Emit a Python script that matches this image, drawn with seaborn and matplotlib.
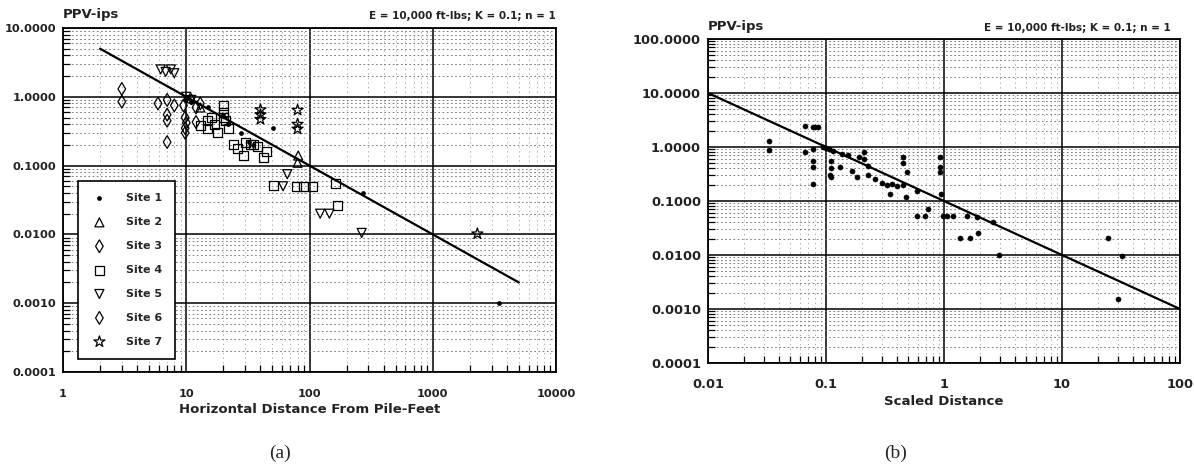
import numpy as np
import pandas as pd
import matplotlib
matplotlib.use("Agg")
import matplotlib.pyplot as plt
from matplotlib.ticker import LogLocator, FixedLocator, FixedFormatter, NullFormatter
import seaborn as sns

sns.set_theme(style="white")
plt.rcParams['font.family'] = ['DejaVu Sans']

# ---------------- data: panel (a) ----------------
site1_x = [10, 9.8, 11, 15, 20, 22, 28, 32, 35, 51, 270, 3450]
site1_y = [1.0, 0.9, 0.85, 0.7, 0.55, 0.4, 0.3, 0.22, 0.2, 0.35, 0.04, 0.001]
site2_x = [81, 80, 11, 13]
site2_y = [0.14, 0.11, 0.95, 0.7]
site3_x = [3, 3, 9.8, 9.8, 9.8, 10, 12]
site3_y = [1.3, 0.85, 0.5, 0.35, 0.3, 0.42, 0.43]
site4_x = [14.8, 15, 17, 18, 20, 20, 20, 21, 22, 24, 26, 29, 33, 42, 45, 51,
           78, 90, 105, 163, 170, 13, 16, 30, 35, 38]
site4_y = [0.45, 0.35, 0.4, 0.3, 0.75, 0.6, 0.5, 0.45, 0.35, 0.2, 0.18, 0.14,
           0.2, 0.13, 0.16, 0.052, 0.05, 0.05, 0.05, 0.055, 0.026, 0.38, 0.5,
           0.22, 0.2, 0.19]
site5_x = [6.2, 6.8, 7.5, 8, 61, 66, 122, 145, 265, 10, 11]
site5_y = [2.5, 2.3, 2.5, 2.2, 0.05, 0.075, 0.02, 0.02, 0.0105, 1.0, 0.9]
site6_x = [5.9, 7, 7, 7, 7, 8, 12, 13, 9.5]
site6_y = [0.8, 0.9, 0.55, 0.45, 0.22, 0.75, 0.7, 0.8, 0.75]
site7_x = [40, 40, 40, 80, 80, 80, 2300]
site7_y = [0.65, 0.55, 0.47, 0.64, 0.4, 0.34, 0.0102]

site_names = ["Site 1", "Site 2", "Site 3", "Site 4", "Site 5", "Site 6", "Site 7"]
site_xs = [site1_x, site2_x, site3_x, site4_x, site5_x, site6_x, site7_x]
site_ys = [site1_y, site2_y, site3_y, site4_y, site5_y, site6_y, site7_y]
site_markers = ["o", "^", "d", "s", "v", "d", "*"]

fit_a_x = [2, 5000]
fit_a_y = [5.0, 0.002]

# ---------------- data: panel (b) ----------------
sd_x = [0.033, 0.033, 0.066, 0.078, 0.08, 0.085, 0.066, 0.078, 0.078, 0.078,
        0.078, 0.095, 0.1, 0.105, 0.115, 0.11, 0.11, 0.11, 0.108, 0.131,
        0.137, 0.153, 0.165, 0.183, 0.19, 0.21, 0.21, 0.226, 0.226, 0.26,
        0.3, 0.33, 0.36, 0.4, 0.45, 0.35, 0.45, 0.45, 0.48, 0.49,
        0.59, 0.73, 0.59, 0.69, 0.92, 0.92, 0.92, 0.94, 0.98, 1.05,
        1.2, 1.57, 1.9, 1.37, 1.67, 1.95, 2.6, 2.9, 24.5, 32, 30]
sd_y = [1.27, 0.865, 2.5, 2.3, 2.35, 2.3, 0.8, 0.9, 0.55, 0.42,
        0.21, 1.0, 0.95, 0.9, 0.85, 0.55, 0.4, 0.28, 0.3, 0.42,
        0.75, 0.7, 0.36, 0.28, 0.64, 0.8, 0.6, 0.44, 0.3, 0.26,
        0.22, 0.2, 0.21, 0.19, 0.2, 0.135, 0.65, 0.5, 0.12, 0.34,
        0.15, 0.07, 0.053, 0.053, 0.64, 0.42, 0.34, 0.135, 0.053, 0.053,
        0.053, 0.053, 0.05, 0.021, 0.021, 0.026, 0.04, 0.01, 0.021, 0.0097, 0.0015]
fit_b_x = [0.01, 100]
fit_b_y = [10.0, 0.001]

# ticks
a_xticks = [1, 10, 100, 1000, 10000]
a_xlabels = ["1", "10", "100", "1000", "10000"]
a_yticks = [0.0001, 0.001, 0.01, 0.1, 1, 10]
a_ylabels = ["0.0001", "0.0010", "0.0100", "0.1000", "1.0000", "10.0000"]
b_xticks = [0.01, 0.1, 1, 10, 100]
b_xlabels = ["0.01", "0.1", "1", "10", "100"]
b_yticks = [0.0001, 0.001, 0.01, 0.1, 1, 10, 100]
b_ylabels = ["0.0001", "0.0010", "0.0100", "0.1000", "1.0000", "10.0000", "100.0000"]

W, H = 1194, 470
fig = plt.figure(figsize=(W / 100, H / 100), dpi=100)

def px_axes(x0, y0, x1, y1):
    return fig.add_axes([x0 / W, 1 - y1 / H, (x1 - x0) / W, (y1 - y0) / H])

axA = px_axes(63, 28, 556, 372)
axB = px_axes(708, 39, 1180, 363)

def style_axes(ax, xticks, xlabels, yticks, ylabels, fs, xpad):
    ax.set_xscale("log")
    ax.set_yscale("log")
    ax.set_xlim(xticks[0], xticks[-1])
    ax.set_ylim(yticks[0], yticks[-1])
    ax.xaxis.set_major_locator(FixedLocator(xticks))
    ax.xaxis.set_major_formatter(FixedFormatter(xlabels))
    ax.yaxis.set_major_locator(FixedLocator(yticks))
    ax.yaxis.set_major_formatter(FixedFormatter(ylabels))
    ax.xaxis.set_minor_locator(LogLocator(base=10, subs=np.arange(2, 10), numticks=20))
    ax.yaxis.set_minor_locator(LogLocator(base=10, subs=np.arange(2, 10), numticks=20))
    ax.xaxis.set_minor_formatter(NullFormatter())
    ax.yaxis.set_minor_formatter(NullFormatter())
    ax.grid(which="major", color="black", lw=1.1, ls="-")
    ax.xaxis.grid(which="minor", color="0.6", lw=0.6, ls=(0, (1.5, 4)))
    ax.yaxis.grid(which="minor", color="0.4", lw=0.6, ls=(0, (2, 3)))
    ax.set_axisbelow(True)
    ax.tick_params(which="major", direction="in", length=0, pad=5,
                   labelsize=fs, colors="black")
    ax.tick_params(axis="x", which="major", pad=xpad)
    ax.tick_params(which="minor", direction="in", length=5, width=0.9,
                   bottom=True, left=True, colors="black")
    for lab in ax.get_xticklabels() + ax.get_yticklabels():
        lab.set_fontweight("bold")
        lab.set_color("#222222")
    for s in ax.spines.values():
        s.set_color("black")
        s.set_linewidth(1.3)

style_axes(axA, a_xticks, a_xlabels, a_yticks, a_ylabels, 8.2, 12)
style_axes(axB, b_xticks, b_xlabels, b_yticks, b_ylabels, 9.3, 11)

# ---- panel (a) ----
sns.lineplot(x=fit_a_x, y=fit_a_y, ax=axA, color="black", lw=1.6, legend=False)
for name, xs, ys, mk in zip(site_names, site_xs, site_ys, site_markers):
    if mk == "o":
        sns.scatterplot(x=xs, y=ys, ax=axA, marker="o", s=8, color="black",
                        edgecolor="black", linewidth=0.5, label=name)
    else:
        size = 70 if mk == "*" else 42
        sns.scatterplot(x=xs, y=ys, ax=axA, marker=mk, s=size, facecolor="none",
                        edgecolor="black", linewidth=0.9, label=name)

leg = axA.legend(loc="lower left", bbox_to_anchor=(0.031, 0.038), frameon=True,
                 fancybox=False, edgecolor="black", framealpha=1,
                 prop={"weight": "bold", "size": 8}, labelspacing=1.25,
                 handletextpad=1.6, borderpad=1.1, handlelength=1.6,
                 borderaxespad=0)
leg.get_frame().set_linewidth(1.2)

axA.set_xlabel("Horizontal Distance From Pile-Feet", fontsize=9.5,
               fontweight="bold", color="#222222", labelpad=3)
axA.set_ylabel("")
axA.text(0.0, 1.02, "PPV-ips", transform=axA.transAxes, ha="left", va="bottom",
         fontsize=9.5, fontweight="bold", color="#222222")
axA.text(1.0, 1.02, "E = 10,000 ft-lbs; K = 0.1; n = 1", transform=axA.transAxes,
         ha="right", va="bottom", fontsize=7.5, fontweight="bold", color="#222222")

# ---- panel (b) ----
sns.lineplot(x=fit_b_x, y=fit_b_y, ax=axB, color="black", lw=1.6, legend=False)
sns.scatterplot(x=sd_x, y=sd_y, ax=axB, marker="o", s=14, color="black",
                edgecolor="black", linewidth=0.3, legend=False)
axB.set_xlabel("Scaled Distance", fontsize=9.5, fontweight="bold",
               color="#222222", labelpad=3)
axB.set_ylabel("")
axB.text(0.0, 1.02, "PPV-ips", transform=axB.transAxes, ha="left", va="bottom",
         fontsize=9.5, fontweight="bold", color="#222222")
axB.text(0.98, 1.02, "E = 10,000 ft-lbs; K = 0.1; n = 1", transform=axB.transAxes,
         ha="right", va="bottom", fontsize=7.5, fontweight="bold", color="#222222")

fig.text(280 / W, 1 - 453 / H, "(a)", ha="center", va="center",
         fontsize=14, family="Liberation Serif")
fig.text(896 / W, 1 - 453 / H, "(b)", ha="center", va="center",
         fontsize=14, family="Liberation Serif")

fig.savefig("out.png", dpi=100, facecolor="white")
